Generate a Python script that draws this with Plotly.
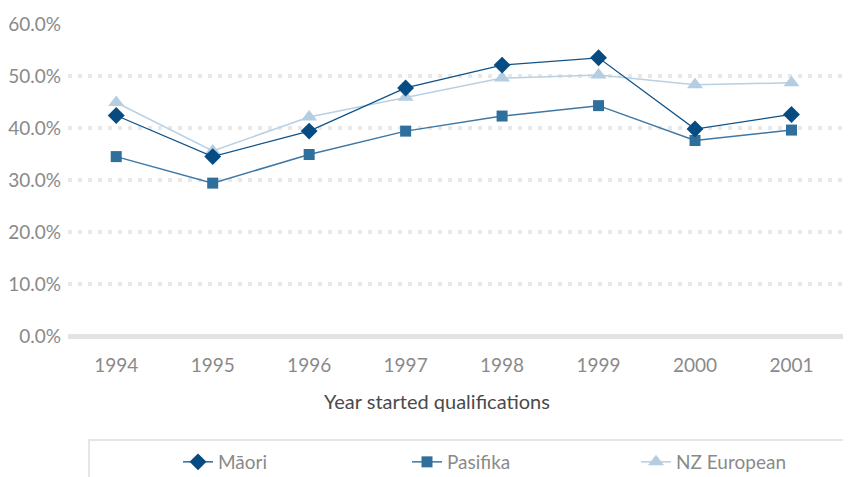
import plotly.graph_objects as go

years = ["1994", "1995", "1996", "1997", "1998", "1999", "2000", "2001"]
maori = [42.4, 34.5, 39.4, 47.7, 52.1, 53.5, 39.8, 42.6]
pasifika = [34.5, 29.4, 34.9, 39.4, 42.3, 44.3, 37.6, 39.6]
nz_european = [44.9, 35.6, 42.1, 45.9, 49.6, 50.2, 48.3, 48.7]

y_ticks = [0, 10, 20, 30, 40, 50, 60]
y_tick_text = [f"{v:.1f}%" for v in y_ticks]
x_title = "Year started qualifications"

FONT = "Lato"
# page body adds an 8px offset; compensate in margins
OFF = 8
L, T, BOT = 68 - OFF, 24 - OFF, 336 - OFF
PH = BOT - T
PW = 851 - L

fig = go.Figure()
fig.add_trace(go.Scatter(
    x=years, y=nz_european, name="NZ European", mode="lines+markers",
    line=dict(color="#b9d0e2", width=1.5),
    marker=dict(symbol="triangle-up", size=14, color="#b4cde0"),
    legendrank=3,
))
fig.add_trace(go.Scatter(
    x=years, y=pasifika, name="Pasifika", mode="lines+markers",
    line=dict(color="#3d77a5", width=1.5),
    marker=dict(symbol="square", size=11, color="#2e6f9c"),
    legendrank=2,
))
fig.add_trace(go.Scatter(
    x=years, y=maori, name="Māori", mode="lines+markers",
    line=dict(color="#0f5288", width=1.3),
    marker=dict(symbol="diamond", size=13, color="#064c82"),
    legendrank=1,
))

fig.update_layout(
    width=851, height=477,
    margin=dict(l=L, r=0, t=T, b=477 - BOT, autoexpand=False),
    paper_bgcolor="white", plot_bgcolor="white",
    font=dict(family=FONT, size=19, color="#8a8a8a"),
    showlegend=True,
    legend=dict(
        orientation="h", xref="container", x=170/851, xanchor="left",
        yref="container", y=(477 - (462 - OFF)) / 477, yanchor="middle",
        entrywidth=184, entrywidthmode="pixels",
        font=dict(family=FONT, size=19, color="#8a8a8a"),
        bgcolor="rgba(0,0,0,0)", borderwidth=0,
        traceorder="normal",
    ),
    xaxis=dict(
        type="category", range=[-0.5, 7.7], automargin=False,
        showgrid=False, zeroline=False, showline=False,
        ticks="", ticklabelstandoff=16,
        tickfont=dict(family=FONT, size=19, color="#8a8a8a"),
        fixedrange=True,
    ),
    yaxis=dict(
        range=[0, 60], tickvals=y_ticks, ticktext=y_tick_text, automargin=False,
        showgrid=True, gridcolor="#e8e8e8", gridwidth=4, griddash="4px,6px",
        zeroline=True, zerolinecolor="#e3e3e3", zerolinewidth=5,
        showline=False, ticks="", ticklabelstandoff=6,
        tickfont=dict(family=FONT, size=19, color="#8a8a8a"),
        fixedrange=True,
    ),
    annotations=[dict(
        text=x_title, xref="paper", yref="paper",
        x=(437 - OFF - L) / PW, y=(BOT - (401 - OFF)) / PH,
        xanchor="center", yanchor="middle", showarrow=False,
        font=dict(family=FONT, size=20, color="#4a4a4a"),
    )],
    shapes=[dict(
        type="rect", xref="paper", yref="paper",
        x0=(89 - OFF - L) / PW, x1=1.2, y0=-0.6,
        y1=(BOT - (440 - OFF)) / PH,
        line=dict(color="#dedede", width=1.5), fillcolor="rgba(0,0,0,0)",
        layer="below",
    )],
)

fig.write_html("out.html")
